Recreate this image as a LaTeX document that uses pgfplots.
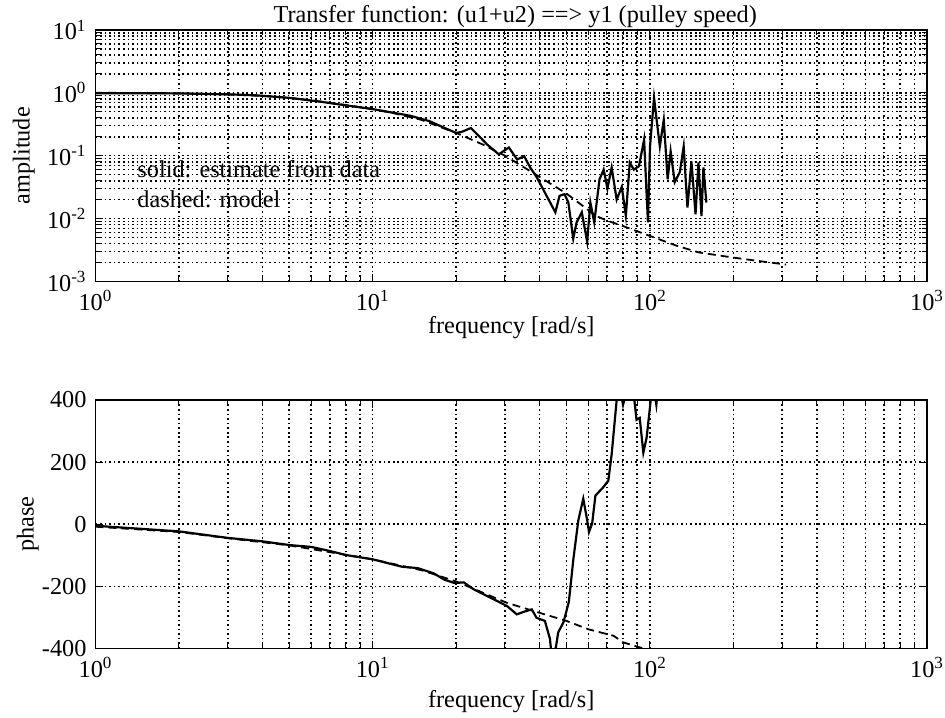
\documentclass[border=0pt]{standalone}
\usepackage{fontspec}
\setmainfont{Liberation Serif}
\usepackage{pgfplots}
\usepackage{pgfplotstable}
\pgfplotsset{compat=1.18}

% amplitude, estimate from data
\pgfplotstableread{
f a
1 0.98
1.5 0.985
2 0.975
3 0.945
3.8 0.91
5 0.83
6.5 0.72
8 0.63
10 0.55
11.3 0.50
13.7 0.43
16 0.355
18.2 0.275
20 0.23
21 0.24
22.6 0.275
23.8 0.22
25.9 0.15
28.5 0.105
31 0.135
33.2 0.087
35.2 0.098
37 0.065
39 0.046
42.4 0.023
45.6 0.0126
47.2 0.023
49.2 0.0245
50.8 0.018
52.9 0.0048
54.4 0.0087
56.8 0.0126
59.4 0.0043
61.0 0.018
63.0 0.0087
65.8 0.042
68.1 0.060
70.3 0.030
72.8 0.065
75.9 0.020
79.2 0.032
81.9 0.011
84.6 0.078
87.5 0.060
91.3 0.068
95.3 0.18
98.4 0.0087
100.1 0.14
103.5 0.83
108.6 0.14
112.2 0.37
115.9 0.042
118.8 0.117
122.9 0.038
128.3 0.055
132.4 0.14
136.6 0.015
141.2 0.081
146.1 0.0117
149.7 0.078
153.5 0.011
156.0 0.065
159.9 0.018
}\ampdata

% amplitude, model
\pgfplotstableread{
f a
1 1.0
2 0.98
3 0.94
4 0.89
5 0.83
6 0.76
7 0.69
8 0.64
10 0.55
12 0.47
15 0.37
20 0.23
25 0.15
30 0.10
40 0.046
50 0.025
64 0.011
70 0.0093
80 0.0076
100 0.0053
125 0.0037
150 0.0029
200 0.0024
250 0.0021
310 0.00186
}\ampmodel

% phase, estimate from data
\pgfplotstableread{
f p
1 -5
2 -23
3 -44
4 -55
5 -67
6 -73
7 -86
8 -99
10 -113
12.8 -137
14.5 -141
16.6 -158
18.1 -178
19.7 -189
21.3 -187
23.2 -210
25.2 -226
28.1 -247
30.5 -263
33.1 -290
35 -282
37.5 -274
39 -301
41.8 -311
43.6 -369
44.3 -430
45.8 -396
46.7 -348
48.8 -315
51 -250
53 -110
55.2 13
57.5 82
59.4 13
60.3 -25
61.9 2
63.6 92
67.9 119
70.8 140
72.8 225
75.9 400
78 440
80 384
83 440
86 420
88 395
89.5 336
91.9 342
94.7 230
97.3 278
100 374
101.5 430
104 420
105.5 384
107 440
}\phasedata

% phase, model
\pgfplotstableread{
f p
1 -8
2 -25
3 -45
5 -68
10 -113
15 -148
20 -184
30.5 -253
40 -285
50 -311
60 -338
74 -359
80 -380
95 -400
150 -440
300 -480
}\phasemodel

\newcommand{\lblfont}{\fontsize{12.2}{14}\selectfont}

\pgfplotsset{
  bode/.style={
    scale only axis, width=418pt,
    xmin=1, xmax=1000,
    xtick={1,10,100,1000},
    xticklabels={10\textsuperscript{0},10\textsuperscript{1},10\textsuperscript{2},10\textsuperscript{3}},
    minor xtick={2,3,4,5,6,7,8,9,20,30,40,50,60,70,80,90,200,300,400,500,600,700,800,900},
    grid=both,
    major grid style={black, line width=0.8pt, dash pattern=on 0.8pt off 1.5pt},
    minor grid style={black, line width=0.8pt, dash pattern=on 0.8pt off 1.5pt},
    axis line style={black, line width=0.9pt},
    tick style={black, line width=0.5pt},
    major tick length=4pt, minor tick length=2.5pt,
    tick label style={font=\lblfont},
    xlabel={frequency [rad/s]},
    xticklabel style={yshift=-1pt},
    yticklabel style={xshift=-1pt},
  },
  solidline/.style={black, line width=1.1pt},
  dashline/.style={black, line width=0.9pt, dash pattern=on 4pt off 2.5pt},
}

\begin{document}
\begin{tikzpicture}
\useasboundingbox (-48pt,-219pt) rectangle (427pt,141.5pt);

\begin{loglogaxis}[
  bode,
  at={(0,0)}, anchor=south west,
  height=126.5pt,
  ymin=1e-3, ymax=10,
  ytick={0.001,0.01,0.1,1,10},
  yticklabels={10\textsuperscript{-3},10\textsuperscript{-2},10\textsuperscript{-1},10\textsuperscript{0},10\textsuperscript{1}},
  minor ytick={0.002,0.003,0.004,0.005,0.006,0.007,0.008,0.009,
    0.02,0.03,0.04,0.05,0.06,0.07,0.08,0.09,
    0.2,0.3,0.4,0.5,0.6,0.7,0.8,0.9,2,3,4,5,6,7,8,9},
  ylabel={amplitude},
  every axis x label/.style={at={(rel axis cs:0.5,0)}, anchor=center, yshift=-23pt, font=\lblfont},
  every axis y label/.style={at={(rel axis cs:0,0.5)}, anchor=center, rotate=90, yshift=36pt, font=\lblfont},
]
\addplot[dashline] table[x=f, y=a] {\ampmodel};
\addplot[solidline] table[x=f, y=a] {\ampdata};
\node[anchor=west, inner sep=0pt, font=\lblfont] at (rel axis cs:0.05,0.447) {solid: estimate from data};
\node[anchor=west, inner sep=0pt, font=\lblfont] at (rel axis cs:0.05,0.328) {dashed: model};
\end{loglogaxis}
\node[anchor=south, inner sep=0pt, font=\lblfont] at (211pt,127.5pt) {Transfer function: (u1+u2) ==> y1 (pulley speed)};

\begin{semilogxaxis}[
  bode,
  at={(0,-59.5pt)}, anchor=north west,
  height=125pt,
  ymin=-400, ymax=400,
  ytick={-400,-200,0,200,400},
  yticklabels={-400,-200,0,200,400},
  ylabel={phase},
  every axis x label/.style={at={(rel axis cs:0.5,0)}, anchor=center, yshift=-26.5pt, font=\lblfont},
  every axis y label/.style={at={(rel axis cs:0,0.5)}, anchor=center, rotate=90, yshift=34pt, font=\lblfont},
]
\addplot[dashline] table[x=f, y=p] {\phasemodel};
\addplot[solidline] table[x=f, y=p] {\phasedata};
\end{semilogxaxis}
\end{tikzpicture}
\end{document}
